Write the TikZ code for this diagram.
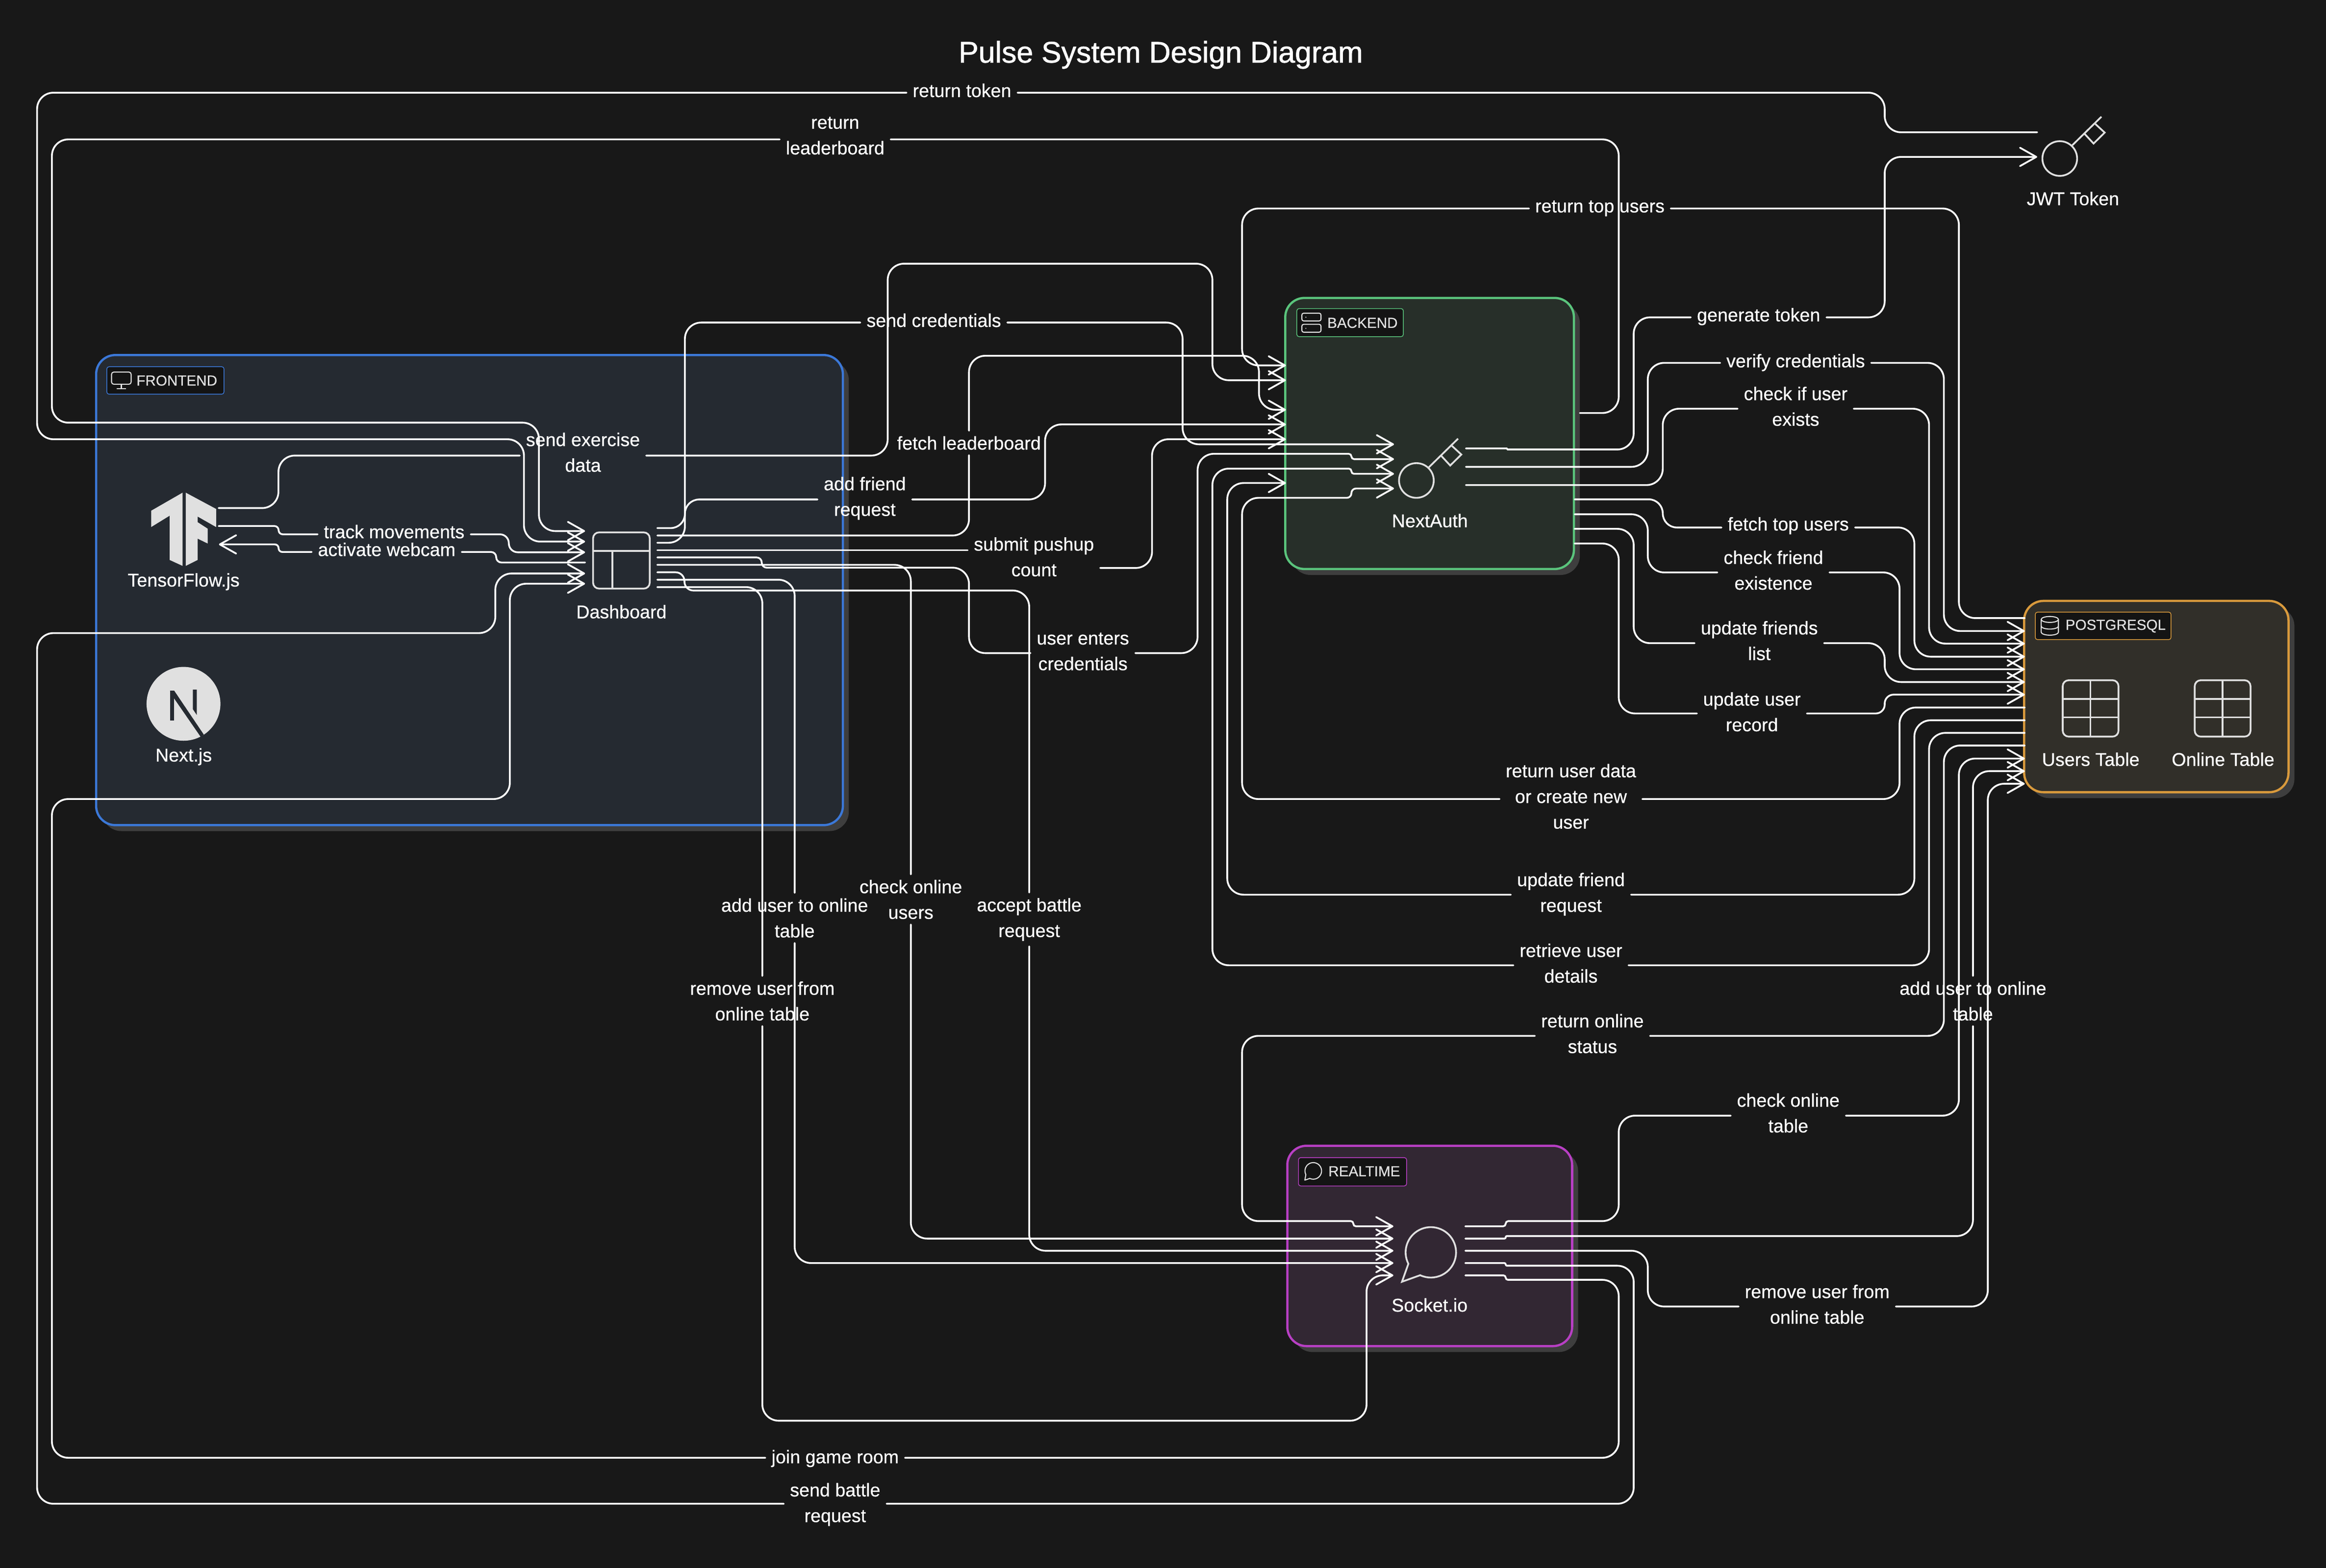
\documentclass[tikz,border=0pt]{standalone}
\usepackage{fontspec}
\setmainfont[FakeBold=0.5]{Liberation Sans}
\newfontfamily\titlefont[FakeBold=1.2]{Liberation Sans}
\usetikzlibrary{arrows.meta,shadows}
\definecolor{canvas}{HTML}{181818}
\definecolor{shade}{HTML}{3E3E3E}
\definecolor{chip}{HTML}{141414}
\definecolor{iconc}{HTML}{E0E0E0}
\definecolor{frontfill}{HTML}{252A31}
\definecolor{frontline}{HTML}{3B78D8}
\definecolor{backfill}{HTML}{272F29}
\definecolor{backline}{HTML}{5AC47C}
\definecolor{realfill}{HTML}{322733}
\definecolor{realline}{HTML}{B83FC4}
\definecolor{dbfill}{HTML}{312F29}
\definecolor{dbline}{HTML}{D99A3C}
\tikzset{
  flow/.style={white, line width=1.2pt, rounded corners=11pt, line cap=round},
  flowto/.style={flow, -{Straight Barb[length=11pt,width=12.4pt,line width=1.2pt,round]}},
  tag/.style={text=white, font=\fontsize{12.45}{17.3}\selectfont, align=center, inner xsep=4pt, inner ysep=3.5pt},
  panel/.style={anchor=north west, rounded corners=13pt, line width=1.5pt, inner sep=0pt, outer sep=0pt,
    drop shadow={shadow xshift=4pt, shadow yshift=-4pt, fill=shade, opacity=1}},
  chipbox/.style={anchor=north west, fill=chip, rounded corners=1.5pt, line width=0.5pt, inner sep=0pt, outer sep=0pt},
  chiptext/.style={anchor=west, text=iconc, font=\fontsize{9.8}{12}\selectfont, inner sep=0pt},
  icon/.style={iconc, line width=1.2pt},
  smallicon/.style={iconc, line width=0.7pt}
}
\newcommand{\keyicon}[2]{%
  \begin{scope}[shift={(#1,#2)}]
    \draw[icon] (0,0) circle[radius=11.7pt];
    \draw[icon] (8.4,-8.9) -- (28.1,-28.2);
    \draw[icon] (16.7,-16.7) -- (22.8,-10.1) -- (30.3,-17.5) -- (24,-23.3);
  \end{scope}}
\begin{document}
\begin{tikzpicture}[x=1pt,y=-1pt]
\useasboundingbox (0,0) rectangle (1568,1057.3);
\fill[canvas] (0,0) rectangle (1568,1057.3);

% Panels
\node[panel, draw=frontline, fill=frontfill, minimum width=503.4pt, minimum height=317pt] (frontend) at (64.8,239.4) {};
\node[panel, draw=backline, fill=backfill, minimum width=194.6pt, minimum height=182.8pt] (backend) at (866.4,200.9) {};
\node[panel, draw=realline, fill=realfill, minimum width=192pt, minimum height=135.1pt] (realtime) at (867.8,772.6) {};
\node[panel, draw=dbline, fill=dbfill, minimum width=178.2pt, minimum height=129pt] (postgres) at (1364.5,405.2) {};

% Panel badges
\node[chipbox, draw=frontline, minimum width=79pt, minimum height=18.5pt] (frontchip) at (72,247.3) {};
\node[chiptext] (fronttext) at (91.8,256.6) {FRONTEND};
\node[chipbox, draw=backline, minimum width=71.8pt, minimum height=18.9pt] (backchip) at (874.2,208.1) {};
\node[chiptext] (backtext) at (894.6,217.7) {BACKEND};
\node[chipbox, draw=realline, minimum width=72.9pt, minimum height=19.1pt] (realchip) at (875.3,780.6) {};
\node[chiptext] (realtext) at (895.3,789.8) {REALTIME};
\node[chipbox, draw=dbline, minimum width=91.5pt, minimum height=18.5pt] (dbchip) at (1372,412.8) {};
\node[chiptext] (dbtext) at (1392.2,422.2) {POSTGRESQL};

% Badge icons
\draw[smallicon, rounded corners=1.5pt] (75.2,250.9) rectangle (88.4,259.1);
\draw[smallicon] (81.8,259.1) -- (81.8,262.2) (78.8,262.2) -- (84.8,262.2);
\draw[smallicon, rounded corners=1.2pt] (877.6,211.2) rectangle (890.5,216.4);
\draw[smallicon, rounded corners=1.2pt] (877.6,218.7) rectangle (890.5,224);
\fill[iconc] (880.3,213.9) circle[radius=0.4pt] (880.3,221.4) circle[radius=0.4pt];
\draw[smallicon, line join=round] (880.3,792.1) arc[start angle=207,end angle=-115,radius=5.6pt] -- (879.6,795.8) -- cycle;
\draw[smallicon] (1376,417.7) -- (1376,426.3) arc[start angle=180,end angle=360,x radius=5.8pt,y radius=2pt] -- (1387.6,417.7);
\draw[smallicon] (1381.8,417.7) circle[x radius=5.8pt,y radius=2pt];
\draw[smallicon] (1376,422.2) arc[start angle=180,end angle=360,x radius=5.8pt,y radius=2pt];

% TensorFlow and Next.js logos
\fill[iconc] (123.1,332.2) -- (123.1,381.6) -- (114.4,377.6) -- (114.4,347.7) -- (101.9,355.4) -- (101.9,344.4) -- cycle;
\fill[iconc] (125.2,332.2) -- (145.7,343.2) -- (145.7,355.4) -- (133.2,348.3) -- (133.2,352.1) -- (140,356.5) -- (140,366.5) -- (133.2,363.2) -- (133.2,377.6) -- (125.2,381.6) -- cycle;
\fill[iconc] (123.7,474.6) circle[radius=24.9pt];
\fill[frontfill] (114.6,465.7) rectangle (117.4,485.9);
\fill[frontfill] (130,465) -- (132.7,465) -- (132.7,482.2) -- (130,478.2) -- cycle;
\fill[frontfill] (114.6,465.7) -- (117.4,465.7) -- (137.4,495.4) -- (135.3,496.9) -- (117.4,471) -- cycle;

% Dashboard icon
\draw[icon, rounded corners=4pt] (399.8,359) rectangle (438,396.9);
\draw[icon] (399.8,371.6) -- (438,371.6) (412.8,371.6) -- (412.8,396.9);

% Key icons and chat bubble
\keyicon{954.8}{324}
\keyicon{1388.5}{106.9}
\draw[icon, line join=miter] (949.4,852.2) arc[start angle=207,end angle=-115,radius=17pt] -- (945.1,864.3) -- cycle;

% Table icons
\foreach \tx in {1390.5,1479.5} {
  \draw[icon, rounded corners=4pt] (\tx,458.7) rectangle (\tx+37.6,496.7);
  \draw[icon] (\tx,471.3) -- (\tx+37.6,471.3) (\tx,483.7) -- (\tx+37.6,483.7) (\tx+18.7,458.7) -- (\tx+18.7,496.7);
}

% Service names
\node[tag] (tfname) at (123.8,392.3) {TensorFlow.js};
\node[tag] (nextname) at (123.8,510.3) {Next.js};
\node[tag] (dashname) at (418.9,412.5) {Dashboard};
\node[tag] (authname) at (963.9,351.1) {NextAuth};
\node[tag] (sockname) at (963.7,880) {Socket.io};
\node[tag] (usersname) at (1409.4,512) {Users Table};
\node[tag] (onlinename) at (1498.6,512) {Online Table};
\node[tag] (jwtname) at (1397.4,133.9) {JWT Token};
\node[text=white, font=\titlefont\fontsize{20.1}{24}\selectfont, inner sep=0pt] (title) at (782.5,37) {Pulse System Design Diagram};

% Ports
\foreach \i/\y in {1/358.1,2/365.2,3/372.4,4/379.3,5/386.7,6/393.6} \coordinate (dashin\i) at (394.4,\y);
\foreach \i/\y in {1/356.1,2/361.1,3/366,4/371,5/375.9,6/380.9,7/385.9,8/390.9,9/395.9} \coordinate (dashout\i) at (443.1,\y);
\foreach \i/\y in {1/246.4,2/256.4,3/276.3,4/286.2,5/296.2,6/325.7} \coordinate (backin\i) at (866.8,\y);
\foreach \i/\y in {1/299.6,2/309.6,3/319.5,4/329.4} \coordinate (authin\i) at (939.7,\y);
\foreach \i/\y in {1/302.4,2/314.8,3/327.1} \coordinate (authout\i) at (988.2,\y);
\foreach \i/\y in {1/336.7,2/346.8,3/356.6,4/366.5} \coordinate (backout\i) at (1061.5,\y);
\foreach \i/\y in {1/416.8,2/425.5,3/434,4/442.8,5/451.3,6/459.9,7/468.4,8/477.1,9/485.7,10/494.2,11/502.7,12/511.5,13/520,14/528.5} \coordinate (dbin\i) at (1364.9,\y);
\foreach \i/\y in {1/826.9,2/835.2,3/843.4,4/851.7,5/860} {
  \coordinate (sockin\i) at (939.3,\y);
  \coordinate (sockout\i) at (987.8,\y);
}
\coordinate (backret) at (1065,278.5);
\coordinate (tfout1) at (147.4,342.6);
\coordinate (tfout2) at (147.4,354.7);
\coordinate (tfin) at (147.6,367.1);
\coordinate (jwtout) at (1373.3,89.2);
\coordinate (jwtin) at (1373.3,105.8);

% Labels
\node[tag] (ltoken) at (648.5,61) {return token};
\node[tag] (lleader) at (563,91.5) {return\\leaderboard};
\node[tag] (lcred) at (629.5,216) {send credentials};
\node[tag] (lfetch) at (653.2,298.7) {fetch leaderboard};
\node[tag] (lexercise) at (393,305) {send exercise\\data};
\node[tag] (lfriend) at (583,336) {add friend\\request};
\node[tag] (lpushup) at (697,375.5) {submit pushup\\count};
\node[tag] (lenters) at (730,439.3) {user enters\\credentials};
\node[tag] (ltrack) at (265.7,358.5) {track movements};
\node[tag] (lwebcam) at (260.7,370.5) {activate webcam};
\node[tag] (ltop) at (1078.5,140.5) {return top users};
\node[tag] (lgen) at (1185.5,213.5) {generate token};
\node[tag] (lverify) at (1210.5,244.5) {verify credentials};
\node[tag] (lexists) at (1210.5,274) {check if user\\exists};
\node[tag] (lfetchtop) at (1205.5,354.5) {fetch top users};
\node[tag] (lchkfriend) at (1195.5,384.5) {check friend\\existence};
\node[tag] (lfriends) at (1186,432) {update friends\\list};
\node[tag] (lrecord) at (1181,480) {update user\\record};
\node[tag] (lretuser) at (1059,537) {return user data\\or create new\\user};
\node[tag] (lupdfriend) at (1059,603) {update friend\\request};
\node[tag] (lretrieve) at (1059,649.5) {retrieve user\\details};
\node[tag] (lretonline) at (1073.5,697) {return online\\status};
\node[tag] (lchktable) at (1205.5,750.5) {check online\\table};
\node[tag] (laddright) at (1330,675) {add user to online\\table};
\node[tag] (lremright) at (1225,879.5) {remove user from\\online table};
\node[tag] (lonline) at (614,606.5) {check online\\users};
\node[tag] (laddleft) at (535.7,619) {add user to online\\table};
\node[tag] (lbattle) at (693.8,620) {accept battle\\request};
\node[tag] (lremove) at (513.9,675) {remove user from\\online table};
\node[tag] (ljoin) at (563,983.5) {join game room};
\node[tag] (lsend) at (563,1014.5) {send battle\\request};

% Frontend to Dashboard
\draw[flow] (tfout2) [rounded corners=2.8pt] -- (187.8,354.7) -- (187.8,360.3) -- (ltrack.west |- 0,360.3);
\draw[flowto] (ltrack.east |- 0,360.3) [rounded corners=6pt] -- (343,360.3) -- (343,372.4) -- (dashin3);
\draw[flow] (dashin4) [rounded corners=3.5pt] -- (334.5,379.3) -- (334.5,372.2) -- (lwebcam.east |- 0,372.2);
\draw[flowto] (lwebcam.west |- 0,372.2) [rounded corners=2.5pt] -- (187.8,372.2) -- (187.8,367.1) -- (tfin);
\draw[flow] (tfout1) -- (187.7,342.6) -- (187.7,307.2) -- (lexercise.west |- 0,307.2);
\draw[flowto] (lexercise.east |- 0,307.2) -- (598.4,307.2) -- (598.4,177.8) -- (817.3,177.8) -- (817.3,256.4) -- (backin2);

% Dashboard to NextAuth
\draw[flow] (dashout1) [rounded corners=9.6pt] -- (461.7,356.1) -- (461.7,336.8) -- (lfriend.west |- 0,336.8);
\draw[flowto] (lfriend.east |- 0,336.8) -- (704.5,336.8) -- (704.5,286.2) -- (backin4);
\draw[flow] (dashout2) -- (653.2,361.1) -- (lfetch.south);
\draw[flowto] (lfetch.north) -- (653.2,239.9) -- (848.7,239.9) -- (848.7,276.3) -- (backin3);
\draw[flow] (dashout3) -- (461.7,366) -- (461.7,217.5) -- (lcred.west |- 0,217.5);
\draw[flowto] (lcred.east |- 0,217.5) -- (797.2,217.5) -- (797.2,299.6) -- (authin1);
\draw[flow] (dashout4) -- (dashout4 -| lpushup.west);
\draw[flowto] (lpushup.east |- 0,383) -- (776.6,383) -- (776.6,296.2) -- (backin5);
\draw[flow] (dashout5) [rounded corners=3.4pt] -- (513.5,375.9) -- (513.5,382.8) [rounded corners=11pt] -- (653.2,382.8) -- (653.2,440.4) -- (lenters.west |- 0,440.4);
\draw[flowto] (lenters.east |- 0,440.4) -- (807.3,440.4) -- (807.3,306) [rounded corners=1.8pt] -- (911,306) -- (911,309.6) -- (authin2);

% Dashboard to Socket.io
\draw[flow] (dashout6) -- (614,380.9) -- (lonline.north);
\draw[flowto] (lonline.south) -- (614,835.2) -- (sockin2);
\draw[flow] (dashout7) [rounded corners=6pt] -- (461.4,385.9) -- (461.4,398.2) [rounded corners=11pt] -- (693.8,398.2) -- (lbattle.north);
\draw[flowto] (lbattle.south) -- (693.8,843.4) -- (sockin3);
\draw[flow] (dashout8) -- (535.7,390.9) -- (laddleft.north);
\draw[flowto] (laddleft.south) -- (535.7,851.7) -- (sockin4);
\draw[flow] (dashout9) -- (513.9,395.9) -- (lremove.north);
\draw[flowto] (lremove.south) -- (513.9,958) -- (921.2,958) -- (921.2,860) -- (sockin5);

% Returns to Dashboard
\draw[flow] (jwtout) -- (1270.5,89.2) -- (1270.5,62.5) -- (ltoken.east |- 0,62.5);
\draw[flowto] (ltoken.west |- 0,62.5) -- (25,62.5) -- (25,296.2) -- (353.2,296.2) -- (353.2,365.2) -- (dashin2);
\draw[flow] (backret) -- (1091.2,278.5) -- (1091.2,94) -- (lleader.east |- 0,94);
\draw[flowto] (lleader.west |- 0,94) -- (35,94) -- (35,285) -- (363.3,285) -- (363.3,358.1) -- (dashin1);
\draw[flow] (sockout4) [rounded corners=0.9pt] -- (1015,851.7) -- (1015,853.5) [rounded corners=11pt] -- (1101.3,853.5) -- (1101.3,1014) -- (lsend.east |- 0,1014);
\draw[flowto] (lsend.west |- 0,1014) -- (25,1014) -- (25,426.9) -- (333.9,426.9) -- (333.9,386.7) -- (dashin5);
\draw[flow] (sockout5) [rounded corners=1.5pt] -- (1015,860) -- (1015,863) [rounded corners=11pt] -- (1091.2,863) -- (1091.2,983) -- (ljoin.east |- 0,983);
\draw[flowto] (ljoin.west |- 0,983) -- (35,983) -- (35,538.8) -- (343.7,538.8) -- (343.7,393.6) -- (dashin6);

% NextAuth to JWT and PostgreSQL
\draw[flow] (authout1) [rounded corners=0.35pt] -- (1016,302.4) -- (1016,303.1) [rounded corners=11pt] -- (1101.3,303.1) -- (1101.3,214) -- (lgen.west |- 0,214);
\draw[flowto] (lgen.east |- 0,214) -- (1270.5,214) -- (1270.5,105.8) -- (jwtin);
\draw[flow] (authout2) -- (1110.8,314.8) -- (1110.8,244.7) -- (lverify.west |- 0,244.7);
\draw[flowto] (lverify.east |- 0,244.7) -- (1310.4,244.7) -- (1310.4,425.5) -- (dbin2);
\draw[flow] (authout3) -- (1120.9,327.1) -- (1120.9,275.6) -- (lexists.west |- 0,275.6);
\draw[flowto] (lexists.east |- 0,275.6) -- (1300.4,275.6) -- (1300.4,434) -- (dbin3);
\draw[flow] (backout1) [rounded corners=9.5pt] -- (1120.9,336.7) -- (1120.9,355.7) -- (lfetchtop.west |- 0,355.7);
\draw[flowto] (lfetchtop.east |- 0,355.7) -- (1290.5,355.7) -- (1290.5,442.8) -- (dbin4);
\draw[flow] (backout2) -- (1110.8,346.8) -- (1110.8,386) -- (lchkfriend.west |- 0,386);
\draw[flowto] (lchkfriend.east |- 0,386) -- (1280.5,386) -- (1280.5,451.3) -- (dbin5);
\draw[flow] (backout3) -- (1101.3,356.6) -- (1101.3,433.7) -- (lfriends.west |- 0,433.7);
\draw[flowto] (lfriends.east |- 0,433.7) -- (1270.5,433.7) -- (1270.5,459.9) -- (dbin6);
\draw[flow] (backout4) -- (1091.2,366.5) -- (1091.2,481.1) -- (lrecord.west |- 0,481.1);
\draw[flowto] (lrecord.east |- 0,481.1) [rounded corners=6pt] -- (1270.5,481.1) -- (1270.5,468.4) -- (dbin7);

% PostgreSQL back to NextAuth
\draw[flow] (dbin1) -- (1320.5,416.8) -- (1320.5,140.6) -- (ltop.east |- 0,140.6);
\draw[flowto] (ltop.west |- 0,140.6) -- (837.3,140.6) -- (837.3,246.4) -- (backin1);
\draw[flow] (dbin8) -- (1280.5,477.1) -- (1280.5,538.8) -- (lretuser.east |- 0,538.8);
\draw[flowto] (lretuser.west |- 0,538.8) -- (837.3,538.8) -- (837.3,335.7) [rounded corners=3.1pt] -- (911,335.7) -- (911,329.4) -- (authin4);
\draw[flow] (dbin9) -- (1290.5,485.7) -- (1290.5,603.3) -- (lupdfriend.east |- 0,603.3);
\draw[flowto] (lupdfriend.west |- 0,603.3) -- (827.3,603.3) -- (827.3,325.7) -- (backin6);
\draw[flow] (dbin10) -- (1300.4,494.2) -- (1300.4,650.9) -- (lretrieve.east |- 0,650.9);
\draw[flowto] (lretrieve.west |- 0,650.9) -- (817.3,650.9) -- (817.3,316) [rounded corners=1.7pt] -- (911,316) -- (911,319.5) -- (authin3);

% PostgreSQL and Socket.io
\draw[flow] (dbin11) -- (1310.4,502.7) -- (1310.4,698.5) -- (lretonline.east |- 0,698.5);
\draw[flowto] (lretonline.west |- 0,698.5) -- (837.3,698.5) -- (837.3,823.4) [rounded corners=1.7pt] -- (912.3,823.4) -- (912.3,826.9) -- (sockin1);
\draw[flow] (sockout1) [rounded corners=1.7pt] -- (1015,826.9) -- (1015,823.4) [rounded corners=11pt] -- (1091.2,823.4) -- (1091.2,752.3) -- (lchktable.west |- 0,752.3);
\draw[flowto] (lchktable.east |- 0,752.3) -- (1320.5,752.3) -- (1320.5,511.5) -- (dbin12);
\draw[flow] (sockout2) [rounded corners=0.8pt] -- (1015,835.2) -- (1015,833.5) [rounded corners=11pt] -- (1330,833.5) -- (laddright.south);
\draw[flowto] (laddright.north) -- (1330,520) -- (dbin13);
\draw[flow] (sockout3) -- (1110.8,843.4) -- (1110.8,881) -- (lremright.west |- 0,881);
\draw[flowto] (lremright.east |- 0,881) -- (1340,881) -- (1340,528.5) -- (dbin14);
\end{tikzpicture}
\end{document}
